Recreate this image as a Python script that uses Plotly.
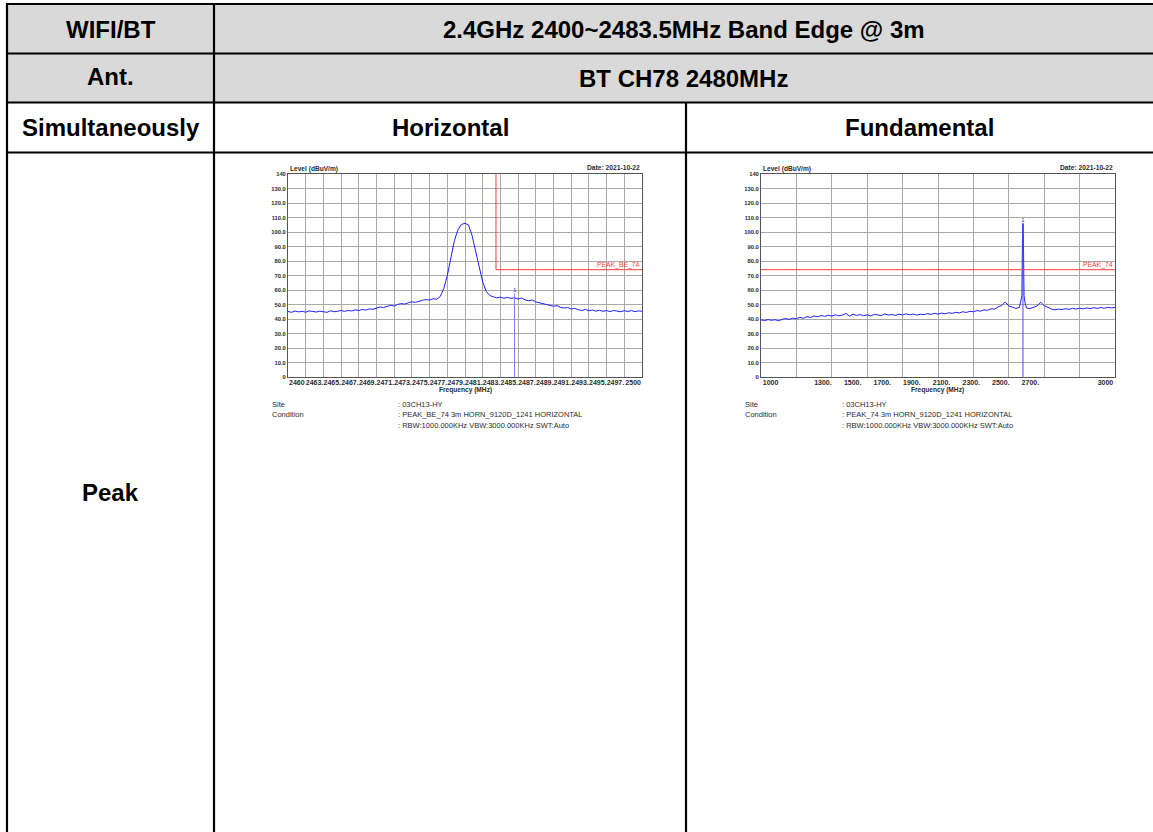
import numpy as np
import plotly.graph_objects as go

W, H = 1153, 832

# ---------------------------------------------------------------------------
# Band-edge sweep 2460-2500 MHz (0.4 MHz steps), level in dBuV/m
edge_start, edge_stop = 2460.0, 2500.0
edge_level = [
    45.2, 44.6, 45.5, 44.9, 45.3, 44.7, 45.6, 45.0, 44.8, 45.4,
    45.1, 44.6, 45.7, 45.0, 45.3, 45.9, 45.2, 46.0, 45.5, 46.3,
    45.8, 46.6, 46.1, 47.0, 46.7, 47.6, 48.3, 47.9, 48.8, 49.5,
    48.9, 50.1, 50.6, 50.3, 51.2, 51.8, 51.5, 52.4, 52.9, 53.4,
    53.1, 54.0, 53.6, 55.5, 61.0, 70.0, 82.0, 94.0, 101.5, 105.2,
    106.0, 104.8, 97.5, 87.0, 76.0, 65.5, 59.0, 56.2, 55.3, 54.6,
    55.1, 54.3, 54.9, 54.2, 54.7, 53.8, 54.4, 53.2, 52.6, 53.1,
    51.8, 51.2, 50.7, 50.0, 49.4, 48.8, 49.2, 48.0, 47.6, 47.9,
    46.9, 47.3, 46.4, 45.9, 46.6, 45.7, 46.2, 45.4, 46.0, 45.3,
    45.8, 45.1, 45.9, 45.4, 45.0, 45.7, 45.2, 45.8, 45.1, 45.6,
    45.3,
]
edge_marker_freq = 2485.6
edge_marker_level = 54.7

# Fundamental sweep 1000-3000 MHz (20 MHz steps)
fund_start, fund_stop = 1000.0, 3000.0
fund_level = [
    39.4, 38.9, 39.6, 39.1, 39.5, 38.8, 39.8, 40.3, 39.7, 40.6,
    40.2, 41.1, 40.5, 41.6, 41.0, 42.1, 41.5, 42.4, 41.8, 42.6,
    42.0, 42.9, 42.2, 42.7, 43.8, 41.9, 43.4, 42.5, 43.0, 42.3,
    42.9, 42.1, 43.2, 42.6, 42.4, 43.5, 42.7, 43.1, 42.5, 43.3,
    42.8, 43.6, 42.9, 43.4, 42.7, 43.3, 43.0, 43.7, 43.2, 43.9,
    43.4, 44.1, 43.6, 44.3, 43.9, 44.6, 44.2, 45.0, 44.5, 45.3,
    45.0, 45.8, 45.4, 46.3, 46.0, 47.1, 46.8, 48.4, 49.3, 51.8,
    48.9, 48.2, 47.3, 48.0, 106.0, 47.6, 47.2, 48.3, 49.0, 51.6,
    49.2, 48.1, 46.9, 46.3, 46.8, 46.5, 47.1, 46.7, 47.3, 46.9,
    47.5, 47.0, 47.6, 47.2, 47.8, 47.3, 47.9, 47.4, 48.1, 47.6,
    48.0,
]
# finer points around the carrier
carrier_freq = [2468, 2474, 2477, 2479, 2481, 2483, 2486, 2492]
carrier_level = [52.0, 56.0, 92.0, 104.5, 104.0, 90.0, 56.0, 51.0]
fund_marker_freq = 2480.0
fund_marker_level = 106.0

# Limits
limit_level = 74.0
band_edge = 2483.5

# Axis labels
y_ticks = list(range(0, 150, 10))
y_text = ["0"] + [f"{v:.1f}" for v in y_ticks[1:-1]] + ["140"]

edge_tick_pos = [2461, 2463, 2465, 2467, 2469, 2471, 2473, 2475, 2477, 2479,
                 2481, 2483, 2485, 2487, 2489, 2491, 2493, 2495, 2497, 2499]
edge_tick_text = ["2460", "2463.", "2465.", "2467.", "2469.", "2471.", "2473.",
                  "2475.", "2477.", "2479.", "2481.", "2483.", "2485.", "2487.",
                  "2489.", "2491.", "2493.", "2495.", "2497.", "2500"]
fund_tick_pos = [1054, 1350, 1518, 1685, 1852, 2020, 2188, 2355, 2522, 2946]
fund_tick_text = ["1000", "1300.", "1500.", "1700.", "1900.", "2100.",
                  "2300.", "2500.", "2700.", "3000"]

# ---------------------------------------------------------------------------
edge_freq = np.linspace(edge_start, edge_stop, len(edge_level))
fund_freq_base = np.linspace(fund_start, fund_stop, len(fund_level))
fund_freq = np.concatenate([fund_freq_base, carrier_freq])
fund_all = np.concatenate([fund_level, carrier_level])
order = np.argsort(fund_freq, kind="stable")
fund_freq, fund_all = fund_freq[order], fund_all[order]

FONT = "Liberation Sans, Arial, sans-serif"
GRID = "#a9a9a9"
AXC = "#555555"
TRACE = "#1f1fff"
MARK = "#7a7aff"
LIMIT = "#ff3b3b"
TXT = "#2b2b2b"


def px(x):
    return x / W


def py(y):
    return 1 - y / H


fig = go.Figure()

# band-edge plot
fig.add_trace(go.Scatter(x=edge_freq, y=edge_level, mode="lines",
                         line=dict(color=TRACE, width=1), xaxis="x", yaxis="y"))
fig.add_trace(go.Scatter(x=[band_edge, band_edge, edge_stop], y=[140, limit_level, limit_level],
                         mode="lines", line=dict(color=LIMIT, width=1), xaxis="x", yaxis="y"))
fig.add_trace(go.Scatter(x=[edge_marker_freq, edge_marker_freq], y=[0, edge_marker_level + 3],
                         mode="lines", line=dict(color=MARK, width=1), xaxis="x", yaxis="y"))
fig.add_trace(go.Scatter(x=[edge_marker_freq], y=[edge_marker_level + 3], mode="text", text=["1"],
                         textposition="top center",
                         textfont=dict(family=FONT, size=6, color="#3030ff"), xaxis="x", yaxis="y"))

# fundamental plot
fig.add_trace(go.Scatter(x=fund_freq, y=fund_all, mode="lines",
                         line=dict(color=TRACE, width=1), xaxis="x2", yaxis="y2"))
fig.add_trace(go.Scatter(x=[fund_start, fund_stop], y=[limit_level, limit_level],
                         mode="lines", line=dict(color=LIMIT, width=1), xaxis="x2", yaxis="y2"))
fig.add_trace(go.Scatter(x=[fund_marker_freq, fund_marker_freq], y=[0, fund_marker_level],
                         mode="lines", line=dict(color="#4a4aff", width=1), xaxis="x2", yaxis="y2"))
fig.add_trace(go.Scatter(x=[fund_marker_freq], y=[fund_marker_level], mode="text", text=["1"],
                         textposition="top center",
                         textfont=dict(family=FONT, size=6, color="#3030ff"), xaxis="x2", yaxis="y2"))


def yaxis_cfg(anchor):
    return dict(domain=[py(377), py(174)], anchor=anchor, range=[0, 140],
                tickmode="array", tickvals=y_ticks, ticktext=y_text,
                showgrid=True, gridcolor=GRID, gridwidth=1, zeroline=False,
                showline=True, linecolor=AXC, linewidth=1, mirror=True,
                ticks="", tickfont=dict(family=FONT, size=5.8, color=TXT, weight="bold"),
                ticklabelstandoff=0, automargin=False, fixedrange=True)


def xaxis_cfg(anchor, x0, x1, rng, pos, text, dtick):
    return dict(domain=[px(x0), px(x1)], anchor=anchor, range=rng,
                tickmode="array", tickvals=pos, ticktext=text, tickangle=0,
                showgrid=False, zeroline=False,
                minor=dict(tickmode="linear", tick0=rng[0], dtick=dtick, showgrid=True,
                           gridcolor=GRID, gridwidth=1, ticks=""),
                showline=True, linecolor=AXC, linewidth=1, mirror=True,
                ticks="", tickfont=dict(family=FONT, size=7.0, color=TXT, weight="bold"),
                ticklabelstandoff=-1, automargin=False, fixedrange=True)


annotations = []


def note(text, x, y, size, xanchor="center", bold=False, color="black", family=FONT):
    annotations.append(dict(text=text, x=px(x), y=py(y), xref="paper", yref="paper",
                            xanchor=xanchor, yanchor="middle", showarrow=False,
                            font=dict(family=family, size=size, color=color,
                                      weight="bold" if bold else "normal")))


# table headers
HS = 24
note("WIFI/BT", 110.5, 29, HS, bold=True)
note("2.4GHz 2400~2483.5MHz Band Edge @ 3m", 683.5, 29, HS, bold=True)
note("Ant.", 110.5, 77, HS, bold=True)
note("BT CH78 2480MHz", 683.5, 78, HS, bold=True)
note("Simultaneously", 110.5, 127, HS, bold=True)
note("Horizontal", 450, 127, HS, bold=True)
note("Fundamental", 919.5, 127, HS, bold=True)
note("Peak", 110.5, 492, HS, bold=True)

# chart captions
for x0, x1, limit_name in [(288, 642, "PEAK_BE_74"), (761, 1115, "PEAK_74")]:
    note("Level (dBuV/m)", x0, 169, 6.6, xanchor="left", bold=True, color=TXT)
    note("Date: 2021-10-22", x1, 168, 6.7, xanchor="right", bold=True, color=TXT)
    note("Frequency (MHz)", (x0 + x1) / 2, 389.5, 6.6, bold=True, color=TXT)
    note(limit_name, x1, 265, 6.8, xanchor="right", color=LIMIT)

# site / condition blocks
for xl, xv, cond in [(270, 396, ": PEAK_BE_74 3m HORN_9120D_1241 HORIZONTAL"),
                     (743, 840, ": PEAK_74 3m HORN_9120D_1241 HORIZONTAL")]:
    note("Site", xl, 404, 7.5, xanchor="left", color=TXT)
    note("Condition", xl, 415, 7.5, xanchor="left", color=TXT)
    note(": 03CH13-HY", xv, 404, 7.5, xanchor="left", color=TXT)
    note(cond, xv, 415, 7.5, xanchor="left", color=TXT)
    note(": RBW:1000.000KHz VBW:3000.000KHz SWT:Auto", xv, 426, 7.5, xanchor="left", color=TXT)

# table grid
shapes = [
    dict(type="rect", x0=px(7), x1=px(1153), y0=py(4), y1=py(102.5), xref="paper", yref="paper",
         fillcolor="#d9d9d9", line=dict(width=0), layer="below"),
]
LW = 2.2
for yy in [4, 53.5, 102.5, 152.5]:
    shapes.append(dict(type="line", x0=px(6), x1=px(1153), y0=py(yy), y1=py(yy),
                       xref="paper", yref="paper", line=dict(color="black", width=LW)))
for xx, ytop in [(7, 3), (214, 3), (686, 102.5)]:
    shapes.append(dict(type="line", x0=px(xx), x1=px(xx), y0=py(ytop), y1=py(832),
                       xref="paper", yref="paper", line=dict(color="black", width=LW)))

fig.update_layout(
    width=W, height=H, margin=dict(l=0, r=0, t=0, b=0, pad=0, autoexpand=False),
    paper_bgcolor="white", plot_bgcolor="white", showlegend=False,
    xaxis=xaxis_cfg("y", 288, 642, [edge_start, edge_stop], edge_tick_pos, edge_tick_text, 2),
    yaxis=yaxis_cfg("x"),
    xaxis2=xaxis_cfg("y2", 761, 1115, [fund_start, fund_stop], fund_tick_pos, fund_tick_text, 200),
    yaxis2=yaxis_cfg("x2"),
    annotations=annotations, shapes=shapes,
)

fig.write_html("out.html")
